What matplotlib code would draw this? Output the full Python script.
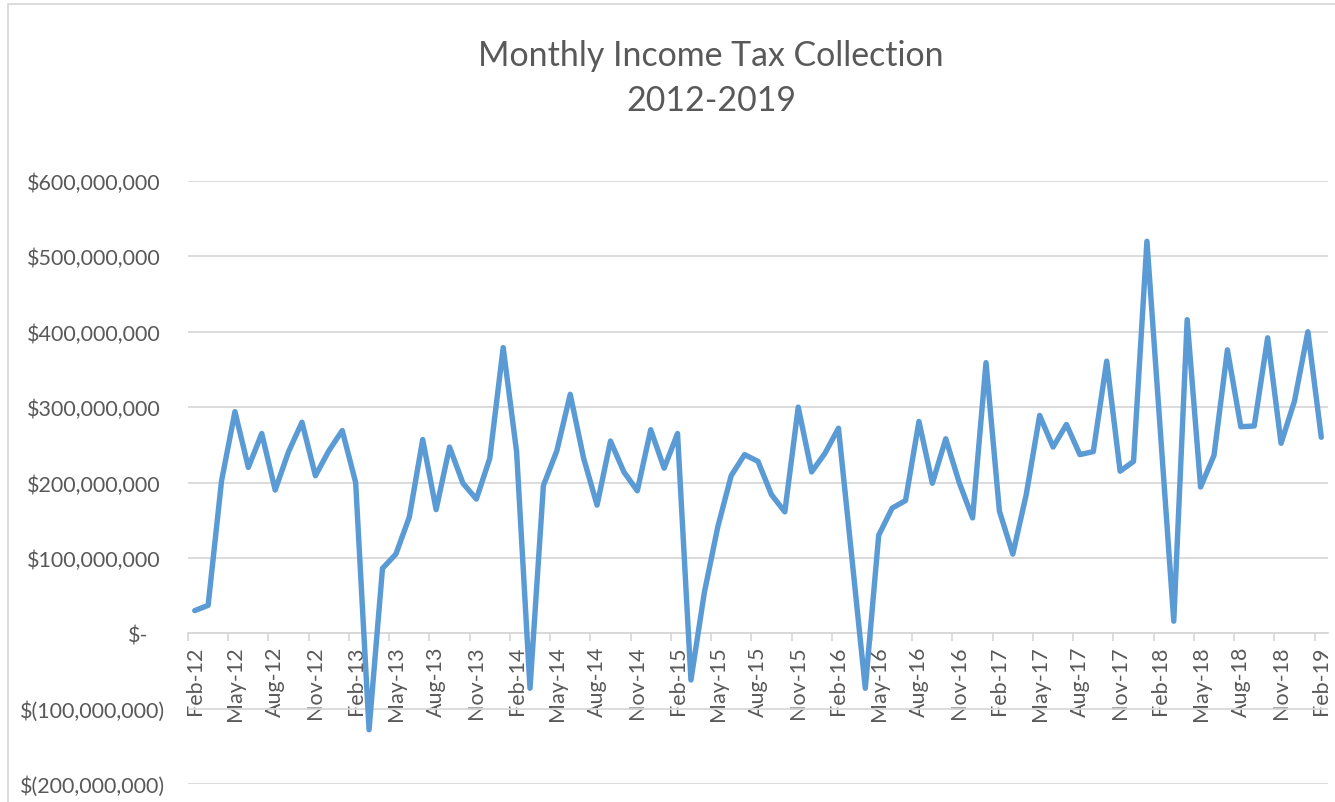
import matplotlib.pyplot as plt
import matplotlib.transforms as mtransforms
from matplotlib.patches import Rectangle
from matplotlib.ticker import FuncFormatter, MultipleLocator
import numpy as np
import pandas as pd

plt.rcParams["font.family"] = ["Lato", "DejaVu Sans"]

# monthly collections, Feb-2012 .. Feb-2019, in millions of dollars
months = pd.date_range("2012-02-01", "2019-02-01", freq="MS")
collections_m = [
    30, 37, 202, 294, 220, 265, 190, 241, 280, 209, 242, 269,
    200, -128, 86, 105, 154, 257, 164, 247, 199, 178, 232, 379,
    241, -73, 196, 242, 317, 232, 170, 255, 214, 189, 270, 219,
    265, -62, 54, 141, 209, 237, 228, 184, 161, 300, 214, 239,
    272, 100, -73, 130, 166, 176, 281, 199, 258, 200, 153, 359,
    162, 105, 184, 289, 247, 277, 237, 241, 361, 215, 228, 520,
    268, 16, 416, 194, 236, 376, 274, 275, 392, 252, 308, 400,
    260,
]
month_labels = [d.strftime("%b-%y") for d in months]

title_lines = ["Monthly Income Tax Collection", "2012-2019"]

text_color = "#595959"
grid_color = "#d9d9d9"

values = np.array(collections_m) * 1e6
x = np.arange(len(values)) + 0.5

fig = plt.figure(figsize=(13.35, 8.03), dpi=100)
ax = fig.add_axes([188 / 1335, 18 / 803, 1140 / 1335, 603 / 803])

ax.plot(x, values, color="#5B9BD5", lw=3.9,
        solid_joinstyle="round", solid_capstyle="round", zorder=3)

ax.set_xlim(0, len(values))
ax.set_ylim(-200e6, 600e6)

ax.yaxis.set_major_locator(MultipleLocator(100e6))


def money(v, pos):
    if abs(v) < 1:
        return "$-"
    if v < 0:
        return "$({:,.0f})".format(-v)
    return "${:,.0f}".format(v)


ax.yaxis.set_major_formatter(FuncFormatter(money))
ax.grid(axis="y", color=grid_color, lw=1.3)
ax.set_axisbelow(True)

for side in ["left", "right", "top"]:
    ax.spines[side].set_visible(False)
ax.spines["bottom"].set_position(("data", 0))
ax.spines["bottom"].set_color(grid_color)
ax.spines["bottom"].set_linewidth(1.3)

ax.set_xticks(x[::3], month_labels[::3], rotation=90)
ax.set_xticks(np.arange(0, len(values) + 1, 3), minor=True)
ax.tick_params(axis="x", which="major", length=0, pad=9,
               labelsize=15.5, labelcolor=text_color)
ax.tick_params(axis="x", which="minor", length=6, width=1.3,
               color=grid_color, direction="out")
ax.tick_params(axis="y", length=0, pad=20, labelsize=15.5,
               labelcolor=text_color)

# accounting-style alignment of the y labels
for tick, val in zip(ax.yaxis.get_major_ticks(), ax.get_yticks()):
    if abs(val) < 1:
        dx = -12
    elif val < 0:
        dx = 5
    else:
        continue
    off = mtransforms.ScaledTranslation(dx / 100, 0, fig.dpi_scale_trans)
    tick.label1.set_transform(tick.label1.get_transform() + off)

fig.text(711 / 1335, 1 - 56 / 803, title_lines[0], ha="center", va="center",
         fontsize=24.4, color=text_color)
fig.text(711 / 1335, 1 - 101 / 803, title_lines[1], ha="center", va="center",
         fontsize=24.4, color=text_color)

fig.patches.append(Rectangle((8 / 1335, -0.05), 1.0, (803 - 5) / 803 + 0.05,
                             transform=fig.transFigure, fill=False,
                             edgecolor=grid_color, lw=1.3))

fig.savefig("out.png", dpi=100)
